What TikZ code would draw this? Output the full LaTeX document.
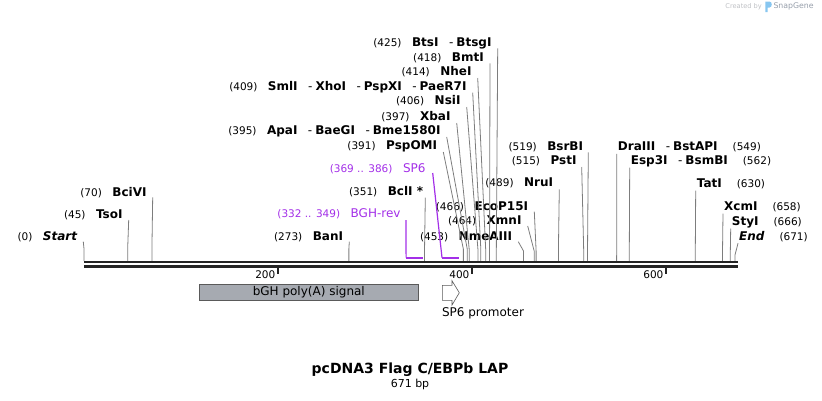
\documentclass[tikz,border=0pt]{standalone}
\usepackage{fontspec}
\setmainfont{DejaVu Sans}

\definecolor{cutgray}{RGB}{125,125,125}
\definecolor{spine}{RGB}{36,36,36}
\definecolor{primer}{RGB}{163,47,232}
\definecolor{featfill}{RGB}{166,170,177}
\definecolor{featline}{RGB}{90,90,90}
\definecolor{creditgray}{RGB}{190,192,196}
\definecolor{snapgray}{RGB}{150,158,170}
\definecolor{snapblue}{RGB}{135,198,240}

% label pieces: position in brackets, enzyme name, joining dash
\newcommand{\sitepos}[1]{{\fontsize{10.5}{12}\selectfont(#1)}}
\newcommand{\enzname}[1]{{\fontsize{12}{14}\selectfont\bfseries #1}}
\newcommand{\labelgap}{\hspace{10.5pt}}
\newcommand{\enzdash}{\hspace{10.5pt}{\fontsize{12}{14}\selectfont-}\hspace{3pt}}

\begin{document}
\begin{tikzpicture}[x=1pt, y=-1pt,
    cutline/.style={cutgray, line width=0.8pt},
    leftlabel/.style={anchor=east, inner sep=0pt},
    rightlabel/.style={anchor=west, inner sep=0pt},
    primerline/.style={primer, line width=1.2pt},
    primerbar/.style={primer, line width=2.2pt},
    spineline/.style={spine, line width=2.6pt}]
    % 1. Define Map Parameters (671 bp drawn from x=84 to x=735)
    \def\xo{84}
    \def\bpx{0.9702}
    \useasboundingbox (0,0) rectangle (822,400);

    % 2. Sites on the backbone
    \coordinate (s0) at ({\xo+0*\bpx},261);
    \coordinate (s45) at ({\xo+45*\bpx},261);
    \coordinate (s70) at ({\xo+70*\bpx},261);
    \coordinate (s273) at ({\xo+273*\bpx},261);
    \coordinate (s351) at ({\xo+351*\bpx},261);
    \coordinate (s391) at ({\xo+391*\bpx},261);
    \coordinate (s395) at ({\xo+395*\bpx},261);
    \coordinate (s397) at ({\xo+397*\bpx},261);
    \coordinate (s406) at ({\xo+406*\bpx},261);
    \coordinate (s409) at ({\xo+409*\bpx},261);
    \coordinate (s414) at ({\xo+414*\bpx},261);
    \coordinate (s418) at ({\xo+418*\bpx},261);
    \coordinate (s425) at ({\xo+425*\bpx},261);
    \coordinate (s453) at ({\xo+453*\bpx},261);
    \coordinate (s464) at ({\xo+464*\bpx},261);
    \coordinate (s466) at ({\xo+466*\bpx},261);
    \coordinate (s489) at ({\xo+489*\bpx},261);
    \coordinate (s515) at ({\xo+515*\bpx},261);
    \coordinate (s519) at ({\xo+519*\bpx},261);
    \coordinate (s549) at ({\xo+549*\bpx},261);
    \coordinate (s562) at ({\xo+562*\bpx},261);
    \coordinate (s630) at ({\xo+630*\bpx},261);
    \coordinate (s658) at ({\xo+658*\bpx},261);
    \coordinate (s666) at ({\xo+666*\bpx},261);
    \coordinate (s671) at ({\xo+671*\bpx},261);
    % primer ends
    \coordinate (p332) at ({\xo+332*\bpx},257.7);
    \coordinate (p349) at ({\xo+349*\bpx},257.7);
    \coordinate (p369) at ({\xo+369*\bpx},257.7);
    \coordinate (p386) at ({\xo+386*\bpx},257.7);

    % 3. Enzyme labels, left of their lines
    \node (start) [leftlabel] at (77.3,236.7) {\sitepos{0}\labelgap\enzname{\itshape Start}};
    \node (tsoi) [leftlabel] at (122.7,215) {\sitepos{45}\labelgap\enzname{TsoI}};
    \node (bcivi) [leftlabel] at (146.7,192.3) {\sitepos{70}\labelgap\enzname{BciVI}};
    \node (bani) [leftlabel] at (343.3,236.7) {\sitepos{273}\labelgap\enzname{BanI}};
    \node (bcli) [leftlabel] at (423.3,191.7) {\sitepos{351}\labelgap\enzname{BclI *}};
    \node (pspomi) [leftlabel] at (437.3,146) {\sitepos{391}\labelgap\enzname{PspOMI}};
    \node (apai) [leftlabel] at (440.7,131) {\sitepos{395}\labelgap\enzname{ApaI}\enzdash\enzname{BaeGI}\enzdash\enzname{Bme1580I}};
    \node (xbai) [leftlabel] at (450.7,117) {\sitepos{397}\labelgap\enzname{XbaI}};
    \node (nsii) [leftlabel] at (460.7,101) {\sitepos{406}\labelgap\enzname{NsiI}};
    \node (smli) [leftlabel] at (466.7,86.7) {\sitepos{409}\labelgap\enzname{SmlI}\enzdash\enzname{XhoI}\enzdash\enzname{PspXI}\enzdash\enzname{PaeR7I}};
    \node (nhei) [leftlabel] at (471.7,72) {\sitepos{414}\labelgap\enzname{NheI}};
    \node (bmti) [leftlabel] at (484,58.3) {\sitepos{418}\labelgap\enzname{BmtI}};
    \node (btsi) [leftlabel] at (491.7,43.3) {\sitepos{425}\labelgap\enzname{BtsI}\enzdash\enzname{BtsgI}};
    \node (nmeaiii) [leftlabel] at (512.3,236.7) {\sitepos{453}\labelgap\enzname{NmeAIII}};
    \node (xmni) [leftlabel] at (521.7,221) {\sitepos{464}\labelgap\enzname{XmnI}};
    \node (ecop) [leftlabel] at (528.3,206.7) {\sitepos{466}\labelgap\enzname{EcoP15I}};
    \node (nrui) [leftlabel] at (553.3,183.3) {\sitepos{489}\labelgap\enzname{NruI}};
    \node (psti) [leftlabel] at (576.7,161) {\sitepos{515}\labelgap\enzname{PstI}};
    \node (bsrbi) [leftlabel] at (583.3,147.3) {\sitepos{519}\labelgap\enzname{BsrBI}};
    % right of their lines
    \node (draiii) [rightlabel] at (617.7,147.3) {\enzname{DraIII}\enzdash\enzname{BstAPI}\hspace{15pt}\sitepos{549}};
    \node (esp3i) [rightlabel] at (630.7,161) {\enzname{Esp3I}\enzdash\enzname{BsmBI}\hspace{15pt}\sitepos{562}};
    \node (tati) [rightlabel] at (696.7,184) {\enzname{TatI}\hspace{15pt}\sitepos{630}};
    \node (xcmi) [rightlabel] at (724,207) {\enzname{XcmI}\hspace{15pt}\sitepos{658}};
    \node (styi) [rightlabel] at (731.7,222) {\enzname{StyI}\hspace{15pt}\sitepos{666}};
    \node (endlbl) [rightlabel] at (739,236.7) {\enzname{\itshape End}\hspace{15pt}\sitepos{671}};

    % 4. Cut lines (label -> knee -> site)
    \draw[cutline] ([xshift=6pt,yshift=-5pt]start.east) -- ([yshift=12pt]s0) -- (s0);
    \draw[cutline] ([xshift=6pt,yshift=-5pt]tsoi.east) -- ([yshift=12pt]s45) -- (s45);
    \draw[cutline] ([xshift=6pt,yshift=-5pt]bcivi.east) -- ([yshift=12pt]s70) -- (s70);
    \draw[cutline] ([xshift=6pt,yshift=-5pt]bani.east) -- ([yshift=12pt]s273) -- (s273);
    \draw[cutline] ([xshift=2pt,yshift=-6pt]bcli.east) -- ([yshift=12pt]s351) -- (s351);
    \draw[cutline] ([xshift=6pt,yshift=-6pt]pspomi.east) -- ([yshift=12pt]s391) -- (s391);
    \draw[cutline] ([xshift=6pt,yshift=-6pt]apai.east) -- ([yshift=12pt]s395) -- (s395);
    \draw[cutline] ([xshift=6pt,yshift=-6pt]xbai.east) -- ([yshift=12pt]s397) -- (s397);
    \draw[cutline] ([xshift=6pt,yshift=-6pt]nsii.east) -- ([yshift=12pt]s406) -- (s406);
    \draw[cutline] ([xshift=6pt,yshift=-6pt]smli.east) -- ([yshift=12pt]s409) -- (s409);
    \draw[cutline] ([xshift=6pt,yshift=-6pt]nhei.east) -- ([yshift=12pt]s414) -- (s414);
    \draw[cutline] ([xshift=6pt,yshift=-5pt]bmti.east) -- ([yshift=12pt]s418) -- (s418);
    \draw[cutline] ([xshift=6pt,yshift=-5pt]btsi.east) -- ([yshift=12pt]s425) -- (s425);
    \draw[cutline] ([xshift=6pt,yshift=-5pt]nmeaiii.east) -- ([yshift=10pt]s453) -- (s453);
    \draw[cutline] ([xshift=6pt,yshift=-5pt]xmni.east) -- ([yshift=10pt]s464) -- (s464);
    \draw[cutline] ([xshift=6pt,yshift=-5pt]ecop.east) -- ([yshift=10pt]s466) -- (s466);
    \draw[cutline] ([xshift=6pt,yshift=-6pt]nrui.east) -- ([yshift=12pt]s489) -- (s489);
    \draw[cutline] ([xshift=5pt,yshift=-6pt]psti.east) -- ([yshift=12pt]s515) -- (s515);
    \draw[cutline] ([xshift=5pt,yshift=-5pt]bsrbi.east) -- ([yshift=12pt]s519) -- (s519);
    \draw[cutline] ([xshift=-1pt,yshift=-6.5pt]draiii.west) -- (s549);
    \draw[cutline] ([xshift=-1pt,yshift=-6.5pt]esp3i.west) -- (s562);
    \draw[cutline] ([xshift=-1pt,yshift=-6.5pt]tati.west) -- (s630);
    \draw[cutline] ([xshift=-1pt,yshift=-6.5pt]xcmi.west) -- (s658);
    \draw[cutline] ([xshift=-1pt,yshift=-6.5pt]styi.west) -- (s666);
    \draw[cutline] ([xshift=-1pt,yshift=-6.5pt]endlbl.west) -- ([yshift=6pt]s671) -- (s671);

    % 5. Primers
    \node (sp6lbl) [leftlabel, text=primer] at (425.7,169) {\sitepos{369 .. 386}\labelgap{\fontsize{12}{14}\selectfont SP6}};
    \node (bghlbl) [leftlabel, text=primer] at (400.7,214) {\sitepos{332 .. 349}\labelgap{\fontsize{12}{14}\selectfont BGH-rev}};
    \draw[primerline] ([xshift=7pt,yshift=-4pt]sp6lbl.east) -- (p369);
    \draw[primerbar] (p369) -- (p386);
    \draw[primerline] ([xshift=5.3pt,yshift=-6pt]bghlbl.east) -- (p332);
    \draw[primerbar] (p332) -- (p349);

    % 6. Backbone and ruler
    \coordinate (bbL) at (84,262);
    \coordinate (bbR) at (737.5,262);
    \draw[spineline] (bbL) -- (bbR);
    \draw[spineline] ([yshift=-4.3pt]bbL) -- ([yshift=-4.3pt]bbR);
    \coordinate (t200) at ({\xo+200*\bpx},267.5);
    \coordinate (t400) at ({\xo+400*\bpx},267.5);
    \coordinate (t600) at ({\xo+600*\bpx},267.5);
    \draw[spine, line width=1.6pt] (t200) -- ++(0,6.5);
    \draw[spine, line width=1.6pt] (t400) -- ++(0,6.5);
    \draw[spine, line width=1.6pt] (t600) -- ++(0,6.5);
    \node (r200) [leftlabel] at ([xshift=-2.5pt,yshift=-7.5pt]t200) {\fontsize{10.5}{12}\selectfont 200};
    \node (r400) [leftlabel] at ([xshift=-2.5pt,yshift=-7.5pt]t400) {\fontsize{10.5}{12}\selectfont 400};
    \node (r600) [leftlabel] at ([xshift=-2.5pt,yshift=-7.5pt]t600) {\fontsize{10.5}{12}\selectfont 600};

    % 7. Features
    \node (bgh) [draw=featline, fill=featfill, line width=0.6pt, anchor=north west,
        minimum width=218.4pt, minimum height=16.3pt, inner sep=0pt]
        at (199.3,284) {\fontsize{12}{14}\selectfont bGH poly(A) signal};
    \draw[featline, fill=white, line width=0.6pt] (442.3,285.3) -- (452,285.3) -- (452,280.7)
        -- (459.3,292.8) -- (452,305) -- (452,300.3) -- (442.3,300.3) -- cycle;
    \node (sp6prom) [anchor=west, inner sep=0pt] at (441.8,313.3) {\fontsize{12}{14}\selectfont SP6 promoter};

    % 8. Title and credit
    \node (title) at (410,369.5) {\fontsize{14}{16}\selectfont\bfseries pcDNA3 Flag C/EBPb LAP};
    \node (length) at (410,384.3) {\fontsize{11}{13}\selectfont 671 bp};
    \node (created) [leftlabel, text=creditgray] at (762,6.5) {\fontsize{6.6}{8}\selectfont Created by};
    \fill[snapblue] (765.3,1.5) -- (769.5,1.5) .. controls (772.5,1.5) and (772.5,7.5) .. (769.5,7.5)
        -- (767.6,7.5) -- (767.6,12) -- (765.3,12) -- cycle;
    \node (snapgene) [rightlabel, text=snapgray] at (773.3,6.5) {\fontsize{7.8}{9}\selectfont SnapGene};
\end{tikzpicture}
\end{document}
